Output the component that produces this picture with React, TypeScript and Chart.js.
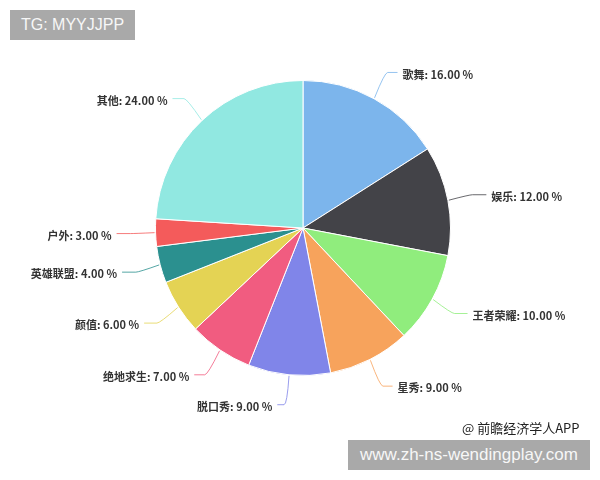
import React, { useEffect, useRef } from "react";
import { Chart, registerables } from "chart.js";

Chart.register(...registerables);

const categories = ["歌舞", "娱乐", "王者荣耀", "星秀", "脱口秀", "绝地求生", "颜值", "英雄联盟", "户外", "其他"];
const shares = [16, 12, 10, 9, 9, 7, 6, 4, 3, 24];
const sliceColors = ["#7cb5ec", "#434348", "#90ed7d", "#f7a35c", "#8085e9", "#f15c80", "#e4d354", "#2b908f", "#f45b5b", "#91e8e1"];

const labelPlugin = {
  id: "pieLabels",
  afterDatasetsDraw(chart: any) {
    const ctx = chart.ctx;
    const meta = chart.getDatasetMeta(0);
    const data = chart.data.datasets[0].data as number[];
    const labels = chart.data.labels as string[];
    ctx.save();
    meta.data.forEach((arc: any, i: number) => {
      const { x, y, startAngle, endAngle, outerRadius } = arc.getProps(["x", "y", "startAngle", "endAngle", "outerRadius"], true);
      const mid = (startAngle + endAngle) / 2;
      const cos = Math.cos(mid);
      const sin = Math.sin(mid);
      const right = cos >= 0;
      const p0x = x + cos * (outerRadius + 1);
      const p0y = y + sin * (outerRadius + 1);
      const ax = x + cos * (outerRadius + 30);
      const ay = y + sin * (outerRadius + 30);
      const p1x = x + cos * (outerRadius + 22);
      const p1y = ay;
      const endX = right ? ax + 9 : ax - 9;
      ctx.strokeStyle = sliceColors[i];
      ctx.globalAlpha = 0.8;
      ctx.lineWidth = 1;
      ctx.beginPath();
      ctx.moveTo(p0x, p0y);
      ctx.quadraticCurveTo(p1x, p1y, p1x + (right ? 3 : -3), ay);
      ctx.lineTo(endX, ay);
      ctx.stroke();
      ctx.globalAlpha = 1;
      ctx.fillStyle = "#333333";
      ctx.font = "bold 11px 'Noto Sans CJK SC', 'DejaVu Sans', sans-serif";
      ctx.textBaseline = "middle";
      ctx.textAlign = right ? "left" : "right";
      const txt = `${labels[i]}: ${data[i].toFixed(2)} %`;
      ctx.fillText(txt, right ? ax + 14 : ax - 14, ay + 2);
    });
    ctx.restore();
  },
};

export default function App() {
  const ref = useRef<HTMLCanvasElement>(null);
  useEffect(() => {
    if (!ref.current) return;
    const chart = new Chart(ref.current, {
      type: "pie",
      data: {
        labels: categories,
        datasets: [
          {
            data: shares,
            backgroundColor: sliceColors,
            borderColor: "#ffffff",
            borderWidth: 1,
          },
        ],
      },
      options: {
        responsive: false,
        animation: false,
        layout: { padding: { top: 80, bottom: 104, left: 155, right: 149 } },
        plugins: {
          legend: { display: false },
          tooltip: { enabled: false },
        },
      },
      plugins: [labelPlugin],
    });
    return () => chart.destroy();
  }, []);

  return (
    <div style={{ position: "fixed", left: 0, top: 0, width: 600, height: 480, background: "#ffffff", overflow: "hidden" }}>
      <canvas ref={ref} width={600} height={480} style={{ position: "absolute", left: 0, top: 0 }} />
      <div
        style={{
          position: "absolute",
          left: 10,
          top: 10,
          width: 125,
          height: 30,
          background: "#a9a9a9",
          color: "#f7f7f7",
          fontFamily: "'Liberation Sans', Arial, sans-serif",
          fontSize: 16,
          lineHeight: "30px",
          textAlign: "center",
        }}
      >
        TG: MYYJJPP
      </div>
      <div
        style={{
          position: "absolute",
          left: 462,
          top: 419,
          color: "#222",
          fontFamily: "'Noto Sans CJK SC', sans-serif",
          fontSize: 13,
          lineHeight: "18px",
          whiteSpace: "nowrap",
        }}
      >
        @ 前瞻经济学人APP
      </div>
      <div
        style={{
          position: "absolute",
          left: 348,
          top: 440,
          width: 242,
          height: 30,
          background: "#a9a9a9",
          color: "#f7f7f7",
          fontFamily: "'Liberation Sans', Arial, sans-serif",
          fontSize: 17,
          lineHeight: "30px",
          textAlign: "center",
          whiteSpace: "nowrap",
        }}
      >
        www.zh-ns-wendingplay.com
      </div>
    </div>
  );
}
